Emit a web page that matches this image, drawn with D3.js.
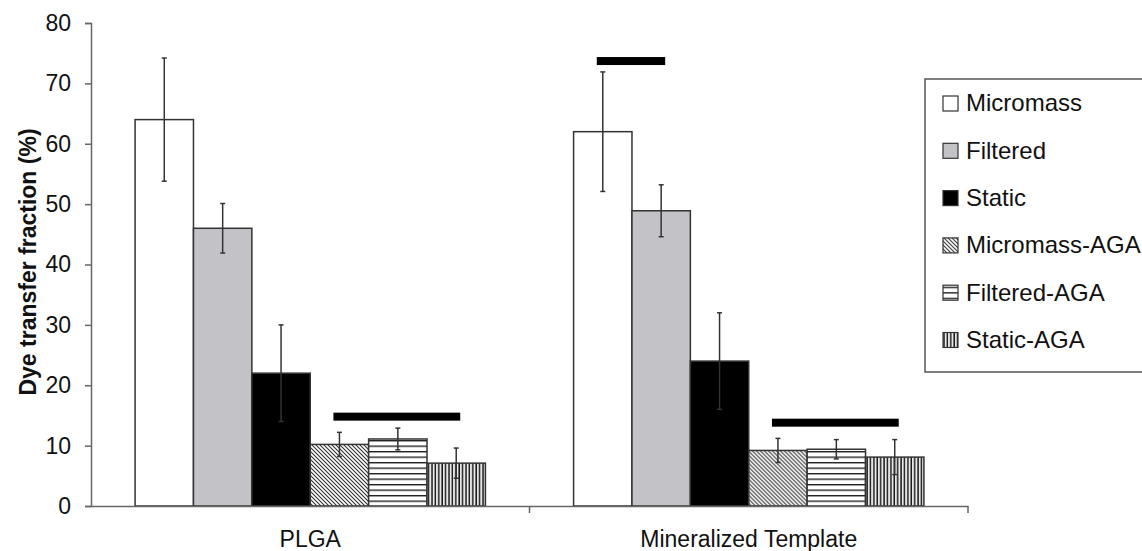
<!DOCTYPE html>
<html>
<head>
<meta charset="utf-8">
<script src="https://cdn.jsdelivr.net/npm/d3@7"></script>
<style>
  body { margin: 0; background: #fff; }
  text { font-family: "Liberation Sans", Arial, sans-serif; fill: #111; }
</style>
</head>
<body>
<svg width="1142" height="551"></svg>
<script>
// Data
var categories = ["PLGA", "Mineralized Template"];
var series = ["Micromass", "Filtered", "Static", "Micromass-AGA", "Filtered-AGA", "Static-AGA"];
var plgaValues = [64, 46, 22, 10.2, 11.1, 7.1];
var plgaErrors = [10.2, 4.1, 8, 2, 1.8, 2.5];
var mineralValues = [62, 48.9, 24, 9.2, 9.4, 8.1];
var mineralErrors = [9.9, 4.3, 8, 2, 1.6, 2.9];
var yTicks = [0, 10, 20, 30, 40, 50, 60, 70, 80];
var sigBars = [
    {category: "PLGA", from: "Micromass-AGA", to: "Static-AGA", value: 14.8},
    {category: "Mineralized Template", from: "Micromass", to: "Filtered", value: 73.7},
    {category: "Mineralized Template", from: "Micromass-AGA", to: "Static-AGA", value: 13.8}
];

var svg = d3.select("svg");
var defs = svg.append("defs");

// Hatch patterns
var diag = defs.append("pattern").attr("id", "diag")
    .attr("patternUnits", "userSpaceOnUse").attr("width", 4).attr("height", 4);
diag.append("rect").attr("width", 4).attr("height", 4).attr("fill", "#fff");
diag.append("path").attr("d", "M-1,-1L5,5M3,-1L5,1M-1,3L1,5")
    .attr("stroke", "#333").attr("stroke-width", 1.1);

var horiz = defs.append("pattern").attr("id", "horiz")
    .attr("patternUnits", "userSpaceOnUse").attr("width", 8).attr("height", 5.5);
horiz.append("rect").attr("width", 8).attr("height", 5.5).attr("fill", "#fff");
horiz.append("line").attr("x1", 0).attr("x2", 8).attr("y1", 0.7).attr("y2", 0.7)
    .attr("stroke", "#111").attr("stroke-width", 1.3);

var vert = defs.append("pattern").attr("id", "vert")
    .attr("patternUnits", "userSpaceOnUse").attr("width", 3.4).attr("height", 8);
vert.append("rect").attr("width", 3.4).attr("height", 8).attr("fill", "#e8e8e8");
vert.append("line").attr("x1", 1).attr("x2", 1).attr("y1", 0).attr("y2", 8)
    .attr("stroke", "#111").attr("stroke-width", 1.4);

var fills = ["#fff", "#c3c2c6", "#000", "url(#diag)", "url(#horiz)", "url(#vert)"];
var color = d3.scaleOrdinal().domain(series).range(fills);

// Scales
var y = d3.scaleLinear().domain([0, 80]).range([506, 23]);
var x0 = d3.scaleBand().domain(categories).range([91, 968]);
var x1 = d3.scaleBand().domain(series).range([0, x0.bandwidth()]).paddingOuter(0.755);

var rows = categories.map((c, i) => series.map((s, j) => ({
    category: c,
    series: s,
    value: i === 0 ? plgaValues[j] : mineralValues[j],
    err: i === 0 ? plgaErrors[j] : mineralErrors[j]
})));

// Y axis
var yAxis = svg.append("g")
    .attr("transform", "translate(91,0)")
    .call(d3.axisLeft(y).tickValues(yTicks).tickSize(6).tickPadding(14));
yAxis.select(".domain").attr("stroke", "#666").attr("stroke-width", 1.5);
yAxis.selectAll(".tick line").attr("stroke", "#666").attr("stroke-width", 1.5);
yAxis.selectAll(".tick text").style("font-size", "23px").attr("fill", "#111");

svg.append("text")
    .attr("transform", "translate(36,262) rotate(-90)")
    .attr("text-anchor", "middle")
    .style("font-size", "23px")
    .style("font-weight", "bold")
    .text("Dye transfer fraction (%)");

// Bars
var groups = svg.selectAll(".group")
    .data(rows)
    .enter().append("g")
    .attr("class", "group")
    .attr("transform", (d, i) => `translate(${x0(categories[i])},0)`);

groups.selectAll("rect")
    .data(d => d)
    .enter().append("rect")
    .attr("x", d => x1(d.series))
    .attr("y", d => y(d.value))
    .attr("width", x1.bandwidth())
    .attr("height", d => y(0) - y(d.value))
    .attr("fill", d => color(d.series))
    .attr("stroke", "#333")
    .attr("stroke-width", 1.5);

// Error bars
var errs = groups.selectAll(".err")
    .data(d => d)
    .enter().append("g")
    .attr("class", "err")
    .attr("transform", d => `translate(${x1(d.series) + x1.bandwidth() / 2},0)`);
errs.append("line")
    .attr("y1", d => y(d.value - d.err)).attr("y2", d => y(d.value + d.err))
    .attr("stroke", "#333").attr("stroke-width", 1.5);
errs.append("line")
    .attr("x1", -2.5).attr("x2", 2.5)
    .attr("y1", d => y(d.value + d.err)).attr("y2", d => y(d.value + d.err))
    .attr("stroke", "#333").attr("stroke-width", 1.5);
errs.append("line")
    .attr("x1", -2.5).attr("x2", 2.5)
    .attr("y1", d => y(d.value - d.err)).attr("y2", d => y(d.value - d.err))
    .attr("stroke", "#333").attr("stroke-width", 1.5);

// Significance bars
svg.selectAll(".sig")
    .data(sigBars)
    .enter().append("rect")
    .attr("class", "sig")
    .attr("x", d => x0(d.category) + x1(d.from) + x1.bandwidth() / 2 - 6)
    .attr("width", d => x1(d.to) - x1(d.from) + 10)
    .attr("y", d => y(d.value) - 4)
    .attr("height", 8)
    .attr("fill", "#000");

// X axis
var xAxis = svg.append("g")
    .attr("transform", "translate(0,506)")
    .call(d3.axisBottom(x0).tickSize(0).tickPadding(25).tickSizeOuter(0));
xAxis.select(".domain").attr("stroke", "#666").attr("stroke-width", 1.5);
xAxis.selectAll(".tick text").style("font-size", "23px").attr("fill", "#111");
xAxis.selectAll(".bound")
    .data(categories.map(c => x0(c) + x0.bandwidth()))
    .enter().append("line")
    .attr("class", "bound")
    .attr("x1", d => d).attr("x2", d => d)
    .attr("y1", 0).attr("y2", 7)
    .attr("stroke", "#666").attr("stroke-width", 1.5);

// Legend
var legend = svg.append("g").attr("transform", "translate(925,79)");
legend.append("rect")
    .attr("width", 240).attr("height", 293)
    .attr("fill", "#fff").attr("stroke", "#555").attr("stroke-width", 1.5);
var item = legend.selectAll(".item")
    .data(series)
    .enter().append("g")
    .attr("class", "item")
    .attr("transform", (d, i) => `translate(18,${24 + i * 47.3})`);
item.append("rect")
    .attr("x", 0).attr("y", -7).attr("width", 15).attr("height", 15)
    .attr("fill", d => color(d))
    .attr("stroke", "#333").attr("stroke-width", 1.2);
item.append("text")
    .attr("x", 23).attr("dy", "0.35em")
    .style("font-size", "24px")
    .text(d => d);
</script>
</body>
</html>
